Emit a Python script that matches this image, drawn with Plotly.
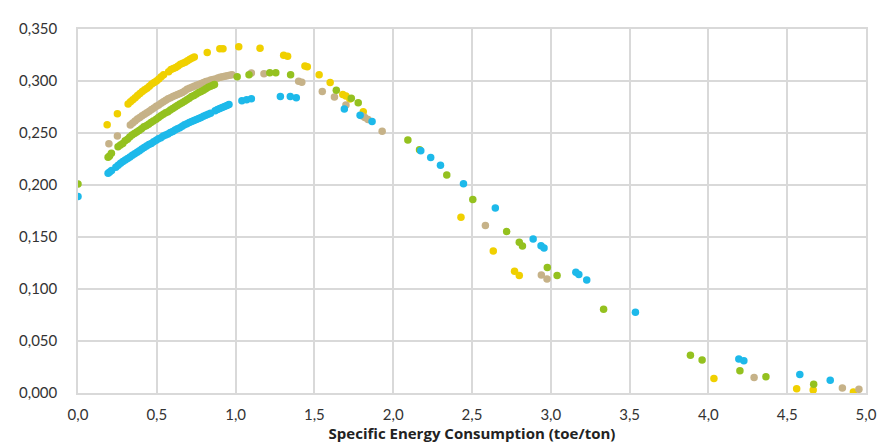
import plotly.graph_objects as go

# Yellow series
yellow_x = [0.185, 0.25,
            0.318, 0.333, 0.348, 0.363, 0.378, 0.393, 0.408, 0.423, 0.438, 0.453, 0.468, 0.483,
            0.498, 0.513, 0.528, 0.543, 0.575, 0.590, 0.605, 0.620, 0.635, 0.650, 0.665, 0.680,
            0.695, 0.710, 0.725, 0.738,
            0.82, 0.90, 0.92, 1.02, 1.155, 1.305, 1.33, 1.44, 1.455, 1.53, 1.60, 1.68, 1.70,
            1.725, 1.81, 2.43, 2.635, 2.77, 2.80, 4.035, 4.56, 4.665, 4.92]
yellow_y = [0.258, 0.2686,
            0.278, 0.280, 0.282, 0.284, 0.286, 0.288, 0.290, 0.2915, 0.293, 0.295, 0.297, 0.2985,
            0.300, 0.302, 0.304, 0.306, 0.309, 0.311, 0.312, 0.313, 0.3145, 0.316, 0.317, 0.318,
            0.3195, 0.321, 0.322, 0.323,
            0.3275, 0.331, 0.331, 0.333, 0.3315, 0.3247, 0.3238, 0.3145, 0.3138, 0.306, 0.2985,
            0.287, 0.2855, 0.2826, 0.2705, 0.169, 0.1366, 0.117, 0.113, 0.014, 0.0041, 0.0028,
            0.001]

# Tan series
tan_x = [0.196, 0.25,
         0.332, 0.347, 0.362, 0.377, 0.392, 0.407, 0.422, 0.437, 0.452, 0.467, 0.482, 0.497,
         0.512, 0.527, 0.542, 0.557, 0.572, 0.587, 0.602, 0.617, 0.632, 0.647, 0.662, 0.677,
         0.692, 0.707, 0.722, 0.737, 0.752, 0.767, 0.782, 0.797, 0.812, 0.827, 0.842, 0.857,
         0.872, 0.887, 0.902, 0.917, 0.932, 0.947, 0.962, 0.977,
         1.10, 1.18, 1.40, 1.42, 1.55, 1.627, 1.70, 1.80, 1.82, 1.84, 1.93, 2.585, 2.94, 2.976,
         4.29, 4.85, 4.955]
tan_y = [0.2396, 0.247,
         0.2577, 0.2595, 0.2615, 0.2635, 0.265, 0.2665, 0.268, 0.2695, 0.271, 0.2725, 0.274,
         0.2757, 0.277, 0.2785, 0.280, 0.2815, 0.283, 0.284, 0.285, 0.286, 0.287, 0.288, 0.289,
         0.2905, 0.292, 0.293, 0.294, 0.295, 0.296, 0.2966, 0.2975, 0.2985, 0.2995, 0.300,
         0.301, 0.3015, 0.302, 0.303, 0.3035, 0.304, 0.3045, 0.305, 0.3055, 0.306,
         0.3076, 0.307, 0.2997, 0.2987, 0.290, 0.2845, 0.277, 0.2665, 0.265, 0.263, 0.2517,
         0.161, 0.1135, 0.1095, 0.015, 0.0047, 0.0035]

# Green series
green_x = [0.0,
           0.191, 0.200, 0.212, 0.254, 0.269, 0.284, 0.299, 0.314, 0.328, 0.343, 0.358, 0.373,
           0.388, 0.403, 0.418, 0.433, 0.448, 0.463, 0.478, 0.496, 0.511, 0.526, 0.541, 0.556,
           0.571, 0.586, 0.601, 0.616, 0.631, 0.646, 0.661, 0.676, 0.691, 0.706, 0.721, 0.736,
           0.751, 0.766, 0.781, 0.796, 0.811, 0.826, 0.841, 0.856, 0.866,
           1.01, 1.085, 1.217, 1.255, 1.349, 1.639, 1.734, 1.778, 2.093, 2.167, 2.34, 2.505,
           2.72, 2.80, 2.82, 2.978, 3.04, 3.335, 3.886, 3.96, 4.20, 4.365, 4.668]
green_y = [0.201,
           0.2268, 0.228, 0.2305, 0.2368, 0.2385, 0.240, 0.2425, 0.244, 0.2461, 0.248, 0.2495,
           0.251, 0.2525, 0.254, 0.256, 0.257, 0.2585, 0.260, 0.2615, 0.2633, 0.265, 0.2665,
           0.268, 0.2695, 0.2705, 0.272, 0.2735, 0.275, 0.2765, 0.278, 0.279, 0.2805, 0.282,
           0.2835, 0.285, 0.286, 0.2875, 0.289, 0.290, 0.291, 0.2925, 0.294, 0.295, 0.296,
           0.2966,
           0.304, 0.306, 0.3079, 0.308, 0.306, 0.291, 0.2835, 0.279, 0.2433, 0.234, 0.2096,
           0.186, 0.1553, 0.145, 0.1413, 0.1207, 0.113, 0.0805, 0.0363, 0.0318, 0.0213, 0.0157,
           0.0084]

# Blue series
blue_x = [0.0,
          0.191, 0.201, 0.213, 0.240, 0.255, 0.270, 0.285, 0.300, 0.315, 0.330, 0.345, 0.360,
          0.375, 0.390, 0.405, 0.420, 0.435, 0.450, 0.465, 0.480, 0.496, 0.511, 0.526, 0.541,
          0.556, 0.571, 0.586, 0.601, 0.616, 0.631, 0.646, 0.661, 0.676, 0.691, 0.706, 0.721,
          0.736, 0.751, 0.766, 0.781, 0.796, 0.811, 0.826, 0.841, 0.870, 0.885, 0.900, 0.915,
          0.930, 0.945, 0.958,
          1.04, 1.07, 1.10, 1.284, 1.347, 1.385, 1.69, 1.79, 1.866, 2.175, 2.238, 2.30, 2.446,
          2.648, 2.888, 2.938, 2.957, 3.159, 3.178, 3.228, 3.537, 4.193, 4.225, 4.58, 4.773]
blue_y = [0.189,
          0.2112, 0.2125, 0.214, 0.217, 0.219, 0.221, 0.2225, 0.224, 0.2255, 0.227, 0.2285,
          0.230, 0.2315, 0.233, 0.2345, 0.236, 0.2375, 0.239, 0.240, 0.2415, 0.243, 0.2445,
          0.2455, 0.247, 0.248, 0.249, 0.2505, 0.2515, 0.253, 0.254, 0.255, 0.2565, 0.258,
          0.259, 0.260, 0.261, 0.262, 0.263, 0.264, 0.265, 0.266, 0.267, 0.268, 0.269, 0.2715,
          0.2725, 0.2735, 0.2745, 0.2755, 0.2765, 0.2773,
          0.281, 0.282, 0.283, 0.2851, 0.285, 0.284, 0.273, 0.267, 0.261, 0.233, 0.2265, 0.219,
          0.2012, 0.178, 0.148, 0.1415, 0.1394, 0.116, 0.114, 0.1086, 0.0777, 0.0328, 0.0309,
          0.0178, 0.0122]

series = [
    ("Series A", yellow_x, yellow_y, "#F0D000"),
    ("Series B", tan_x, tan_y, "#C6B288"),
    ("Series C", green_x, green_y, "#94C11F"),
    ("Series D", blue_x, blue_y, "#1DB9EA"),
]

fig = go.Figure()
for name, xs, ys, col in series:
    fig.add_trace(go.Scatter(x=xs, y=ys, mode="markers", name=name,
                             marker=dict(color=col, size=7.5, line=dict(width=0))))

grid = "#D9D9D9"
fig.update_layout(
    width=896, height=448,
    margin=dict(l=65, r=38, t=11, b=63),
    paper_bgcolor="white", plot_bgcolor="white",
    separators=",.",
    showlegend=False,
    font=dict(family="Lato, sans-serif", size=15, color="#333333"),
    xaxis=dict(range=[0, 5], dtick=0.5, tickformat=".1f", showgrid=True, gridcolor=grid,
               gridwidth=1.5, zeroline=False, showline=True, linecolor=grid, linewidth=1.5,
               mirror=True, ticks="", ticklabelstandoff=7,
               title=dict(text="<b>Specific Energy Consumption (toe/ton)</b>",
                          font=dict(family="Open Sans, sans-serif", size=15, color="#222222"),
                          standoff=7)),
    yaxis=dict(range=[0, 0.35], dtick=0.05, tickformat=".3f", showgrid=True, gridcolor=grid,
               gridwidth=1.5, zeroline=False, showline=True, linecolor=grid, linewidth=1.5,
               mirror=True, ticks="", ticklabelstandoff=16),
)

fig.write_html("out.html")
